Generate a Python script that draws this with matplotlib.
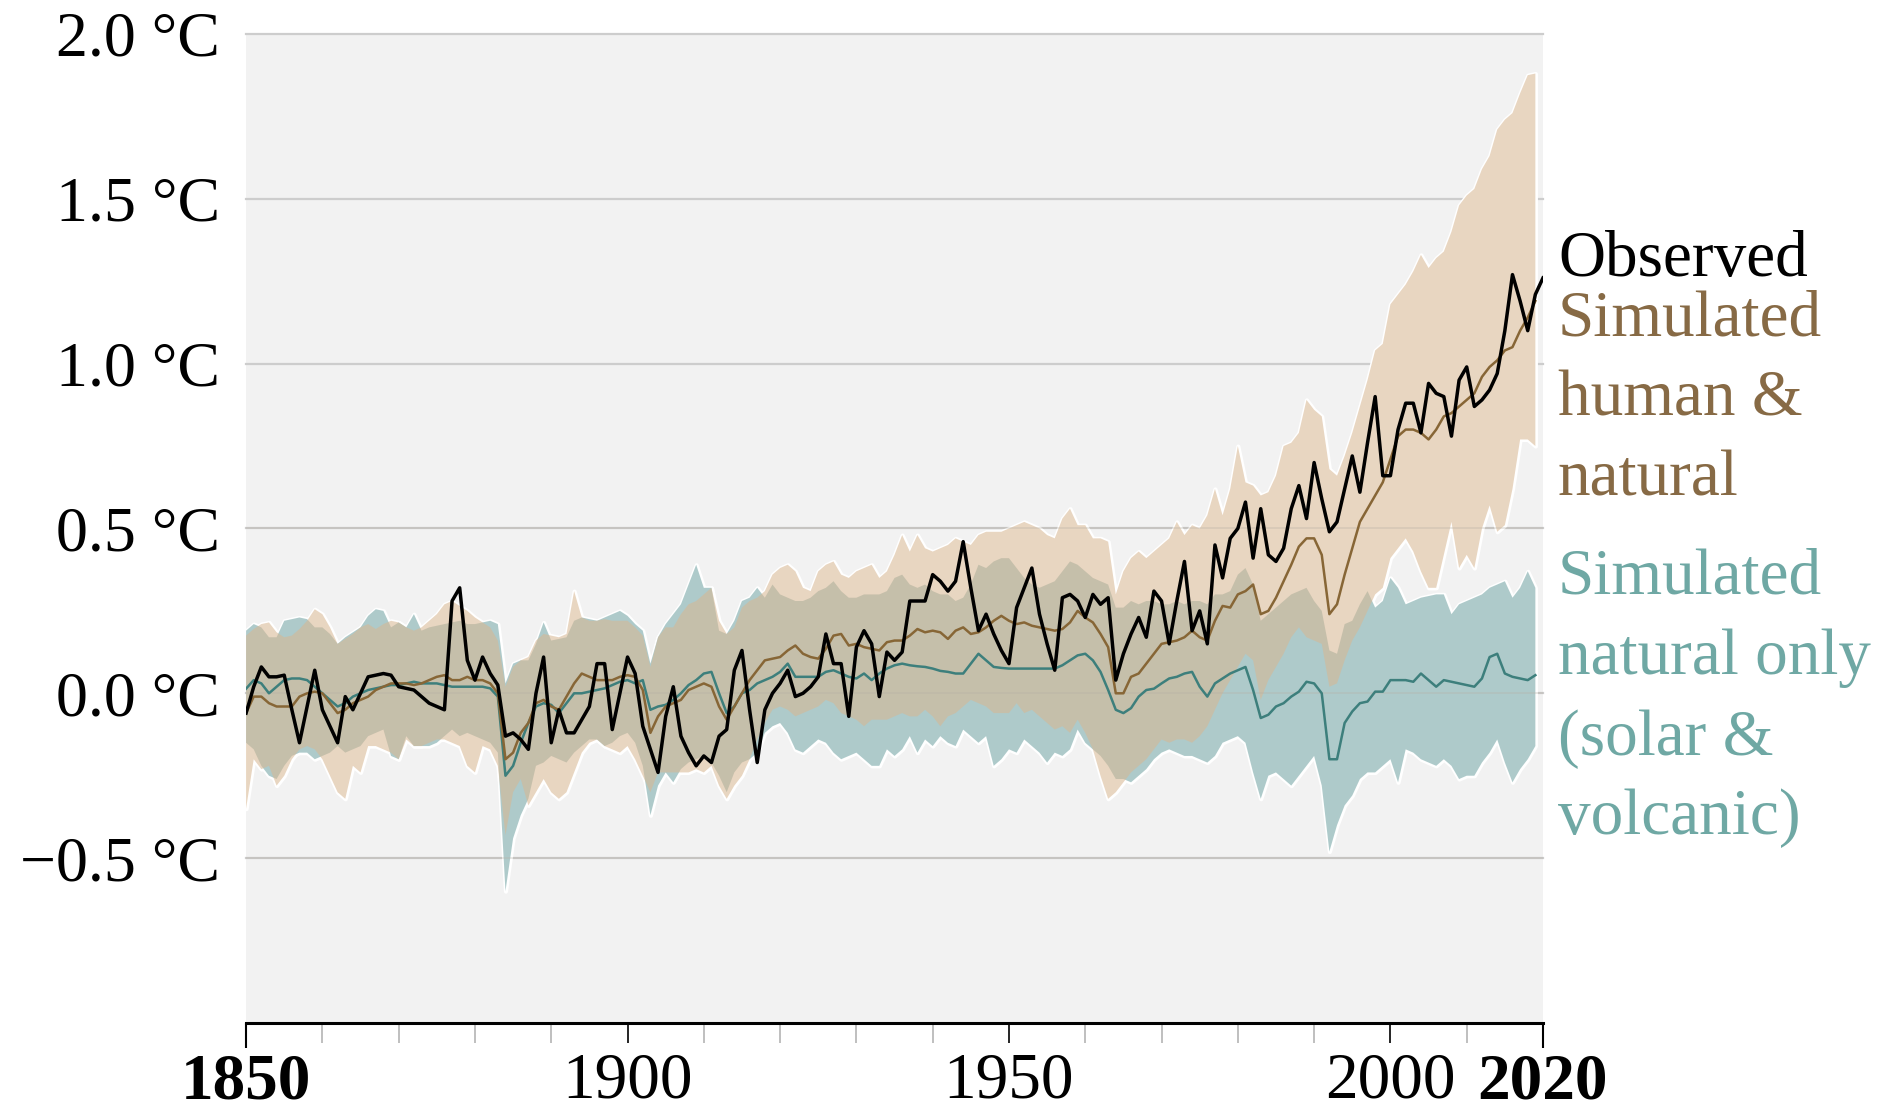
import numpy as np
import matplotlib
matplotlib.use("Agg")
import matplotlib.pyplot as plt

# years
years_obs = np.arange(1850, 2021)
years_sim = np.arange(1850, 2020)

# observed global surface temperature change (°C, relative to 1850-1900)
observed = [
    -0.06, 0.02, 0.08, 0.05, 0.05, 0.055, -0.05, -0.15, -0.04, 0.07,
    -0.05, -0.10, -0.15, -0.01, -0.05, 0.00, 0.05, 0.055, 0.06, 0.055,
    0.02, 0.015, 0.01, -0.01, -0.03, -0.04, -0.05, 0.28, 0.32, 0.10,
    0.04, 0.11, 0.06, 0.025, -0.13, -0.12, -0.14, -0.17, 0.00, 0.11,
    -0.15, -0.05, -0.12, -0.12, -0.08, -0.04, 0.09, 0.09, -0.11, 0.00,
    0.11, 0.06, -0.10, -0.17, -0.24, -0.07, 0.02, -0.13, -0.18, -0.22,
    -0.19, -0.21, -0.13, -0.11, 0.07, 0.13, -0.05, -0.21, -0.05, 0.00,
    0.03, 0.07, -0.01, 0.00, 0.02, 0.05, 0.18, 0.09, 0.09, -0.07,
    0.14, 0.19, 0.15, -0.01, 0.125, 0.10, 0.125, 0.28, 0.28, 0.28,
    0.36, 0.34, 0.31, 0.34, 0.46, 0.32, 0.19, 0.24, 0.18, 0.13,
    0.09, 0.26, 0.32, 0.38, 0.24, 0.15, 0.07, 0.29, 0.30, 0.28,
    0.23, 0.30, 0.27, 0.29, 0.04, 0.12, 0.18, 0.23, 0.17, 0.31,
    0.28, 0.15, 0.28, 0.40, 0.19, 0.25, 0.15, 0.45, 0.35, 0.47,
    0.50, 0.58, 0.41, 0.56, 0.42, 0.40, 0.44, 0.56, 0.63, 0.53,
    0.70, 0.59, 0.49, 0.52, 0.62, 0.72, 0.61, 0.76, 0.90, 0.66,
    0.66, 0.80, 0.88, 0.88, 0.79, 0.94, 0.91, 0.90, 0.78, 0.95,
    0.99, 0.87, 0.89, 0.92, 0.97, 1.10, 1.27, 1.19, 1.10, 1.21,
    1.26,
]

# simulated human & natural: mean, upper, lower
human_mean = [
    -0.06, -0.01, -0.01, -0.03, -0.04, -0.04, -0.04, -0.01, 0.00, 0.005,
    0.00, -0.03, -0.06, -0.05, -0.03, -0.02, -0.01, 0.01, 0.02, 0.03,
    0.03, 0.03, 0.025, 0.03, 0.04, 0.05, 0.055, 0.04, 0.04, 0.05,
    0.04, 0.04, 0.03, 0.00, -0.20, -0.18, -0.12, -0.09, -0.03, -0.02,
    -0.04, -0.05, -0.01, 0.03, 0.06, 0.05, 0.04, 0.04, 0.04, 0.05,
    0.055, 0.05, 0.01, -0.12, -0.07, -0.04, -0.03, -0.02, 0.01, 0.02,
    0.03, 0.02, -0.04, -0.08, -0.04, 0.00, 0.04, 0.07, 0.10, 0.105,
    0.11, 0.13, 0.145, 0.12, 0.11, 0.105, 0.135, 0.175, 0.18, 0.145,
    0.15, 0.14, 0.135, 0.13, 0.155, 0.16, 0.16, 0.175, 0.195, 0.185,
    0.19, 0.185, 0.165, 0.19, 0.20, 0.18, 0.185, 0.20, 0.22, 0.235,
    0.22, 0.21, 0.215, 0.205, 0.20, 0.195, 0.19, 0.195, 0.215, 0.25,
    0.23, 0.215, 0.18, 0.14, 0.00, 0.00, 0.05, 0.06, 0.09, 0.12,
    0.15, 0.155, 0.16, 0.17, 0.19, 0.17, 0.16, 0.22, 0.265, 0.26,
    0.30, 0.31, 0.33, 0.24, 0.25, 0.29, 0.34, 0.39, 0.445, 0.47,
    0.47, 0.42, 0.24, 0.27, 0.36, 0.44, 0.52, 0.56, 0.60, 0.64,
    0.71, 0.78, 0.80, 0.80, 0.79, 0.77, 0.80, 0.84, 0.85, 0.87,
    0.89, 0.91, 0.96, 0.99, 1.01, 1.04, 1.05, 1.10, 1.14, 1.19,
]
human_upper = [
    0.175, 0.195, 0.21, 0.215, 0.185, 0.17, 0.175, 0.195, 0.22, 0.255,
    0.24, 0.20, 0.15, 0.165, 0.18, 0.20, 0.21, 0.195, 0.21, 0.22,
    0.215, 0.20, 0.19, 0.20, 0.22, 0.24, 0.27, 0.28, 0.265, 0.25,
    0.23, 0.215, 0.20, 0.16, 0.02, 0.08, 0.10, 0.11, 0.16, 0.18,
    0.175, 0.17, 0.18, 0.31, 0.23, 0.22, 0.22, 0.225, 0.22, 0.22,
    0.22, 0.20, 0.175, 0.08, 0.17, 0.20, 0.20, 0.24, 0.27, 0.28,
    0.30, 0.32, 0.22, 0.18, 0.20, 0.26, 0.28, 0.29, 0.31, 0.36,
    0.38, 0.39, 0.37, 0.32, 0.31, 0.37, 0.39, 0.40, 0.36, 0.35,
    0.37, 0.38, 0.39, 0.35, 0.37, 0.42, 0.48, 0.43, 0.48, 0.44,
    0.43, 0.44, 0.45, 0.47, 0.46, 0.45, 0.48, 0.49, 0.49, 0.49,
    0.50, 0.51, 0.52, 0.51, 0.50, 0.48, 0.47, 0.53, 0.56, 0.51,
    0.51, 0.47, 0.47, 0.46, 0.30, 0.37, 0.41, 0.43, 0.41, 0.43,
    0.45, 0.47, 0.52, 0.48, 0.51, 0.50, 0.54, 0.62, 0.54, 0.62,
    0.75, 0.64, 0.63, 0.60, 0.61, 0.66, 0.75, 0.76, 0.79, 0.89,
    0.86, 0.84, 0.68, 0.66, 0.72, 0.79, 0.87, 0.95, 1.04, 1.06,
    1.18, 1.21, 1.24, 1.28, 1.33, 1.29, 1.32, 1.34, 1.40, 1.48,
    1.51, 1.53, 1.59, 1.63, 1.71, 1.74, 1.76, 1.82, 1.875, 1.88,
]
human_lower = [
    -0.35, -0.20, -0.23, -0.22, -0.28, -0.25, -0.20, -0.17, -0.16, -0.17,
    -0.20, -0.25, -0.30, -0.32, -0.22, -0.24, -0.16, -0.16, -0.17, -0.18,
    -0.20, -0.14, -0.16, -0.16, -0.15, -0.14, -0.14, -0.15, -0.16, -0.22,
    -0.24, -0.16, -0.17, -0.22, -0.43, -0.30, -0.26, -0.34, -0.30, -0.26,
    -0.30, -0.32, -0.30, -0.24, -0.18, -0.15, -0.14, -0.16, -0.17, -0.18,
    -0.16, -0.20, -0.25, -0.30, -0.24, -0.24, -0.24, -0.24, -0.24, -0.23,
    -0.24, -0.22, -0.28, -0.32, -0.28, -0.25, -0.20, -0.14, -0.09, -0.05,
    -0.04, -0.05, -0.07, -0.06, -0.05, -0.04, -0.02, -0.03, -0.06, -0.07,
    -0.08, -0.10, -0.08, -0.08, -0.08, -0.07, -0.06, -0.07, -0.07, -0.05,
    -0.07, -0.10, -0.07, -0.06, -0.04, -0.02, -0.03, -0.04, -0.06, -0.06,
    -0.06, -0.03, -0.06, -0.05, -0.07, -0.09, -0.11, -0.10, -0.12, -0.08,
    -0.12, -0.17, -0.25, -0.32, -0.30, -0.27, -0.24, -0.22, -0.20, -0.17,
    -0.14, -0.15, -0.14, -0.14, -0.15, -0.13, -0.10, -0.05, 0.00, 0.04,
    0.08, 0.12, 0.10, -0.02, 0.04, 0.08, 0.12, 0.17, 0.20, 0.17,
    0.16, 0.15, 0.02, 0.03, 0.10, 0.16, 0.20, 0.25, 0.30, 0.32,
    0.41, 0.44, 0.47, 0.43, 0.37, 0.32, 0.32, 0.42, 0.52, 0.38,
    0.42, 0.38, 0.50, 0.57, 0.49, 0.51, 0.62, 0.77, 0.77, 0.75,
]

# simulated natural only (solar & volcanic): mean, upper, lower
natural_mean = [
    0.014, 0.04, 0.03, 0.00, 0.02, 0.04, 0.045, 0.045, 0.04, 0.02,
    0.00, -0.02, -0.04, -0.03, -0.01, 0.00, 0.01, 0.015, 0.02, 0.025,
    0.025, 0.03, 0.035, 0.03, 0.03, 0.03, 0.025, 0.02, 0.02, 0.02,
    0.02, 0.02, 0.015, -0.01, -0.25, -0.22, -0.15, -0.09, -0.04, -0.03,
    -0.035, -0.06, -0.03, 0.00, 0.00, 0.005, 0.01, 0.015, 0.025, 0.035,
    0.04, 0.03, 0.04, -0.05, -0.04, -0.035, -0.02, 0.00, 0.025, 0.04,
    0.06, 0.065, 0.00, -0.06, -0.04, 0.00, 0.01, 0.03, 0.04, 0.05,
    0.065, 0.09, 0.05, 0.05, 0.05, 0.05, 0.065, 0.07, 0.06, 0.05,
    0.045, 0.06, 0.04, 0.06, 0.075, 0.085, 0.09, 0.085, 0.082, 0.08,
    0.075, 0.068, 0.065, 0.06, 0.06, 0.09, 0.12, 0.10, 0.08, 0.077,
    0.075, 0.075, 0.075, 0.075, 0.075, 0.075, 0.075, 0.085, 0.10, 0.115,
    0.12, 0.10, 0.065, 0.01, -0.05, -0.06, -0.045, -0.01, 0.01, 0.014,
    0.03, 0.045, 0.05, 0.06, 0.065, 0.02, -0.01, 0.03, 0.045, 0.06,
    0.07, 0.08, 0.01, -0.075, -0.065, -0.04, -0.03, -0.01, 0.005, 0.035,
    0.03, 0.00, -0.20, -0.20, -0.09, -0.055, -0.03, -0.025, 0.005, 0.005,
    0.04, 0.04, 0.04, 0.035, 0.06, 0.04, 0.02, 0.04, 0.035, 0.03,
    0.025, 0.02, 0.045, 0.11, 0.12, 0.06, 0.05, 0.045, 0.04, 0.055,
]
natural_upper = [
    0.19, 0.21, 0.20, 0.17, 0.17, 0.22, 0.225, 0.23, 0.225, 0.20,
    0.20, 0.18, 0.15, 0.17, 0.185, 0.20, 0.235, 0.255, 0.25, 0.20,
    0.215, 0.20, 0.24, 0.19, 0.20, 0.205, 0.21, 0.215, 0.22, 0.21,
    0.21, 0.215, 0.22, 0.21, 0.03, 0.09, 0.10, 0.10, 0.15, 0.215,
    0.16, 0.165, 0.17, 0.22, 0.23, 0.225, 0.22, 0.23, 0.24, 0.25,
    0.235, 0.21, 0.19, 0.09, 0.17, 0.21, 0.24, 0.27, 0.33, 0.39,
    0.32, 0.32, 0.19, 0.18, 0.22, 0.28, 0.29, 0.32, 0.29, 0.33,
    0.30, 0.29, 0.28, 0.28, 0.29, 0.31, 0.32, 0.34, 0.31, 0.29,
    0.29, 0.30, 0.30, 0.30, 0.31, 0.35, 0.36, 0.33, 0.32, 0.33,
    0.31, 0.30, 0.30, 0.28, 0.29, 0.33, 0.39, 0.38, 0.40, 0.41,
    0.41, 0.38, 0.35, 0.33, 0.32, 0.33, 0.34, 0.37, 0.40, 0.39,
    0.37, 0.35, 0.34, 0.33, 0.26, 0.26, 0.28, 0.27, 0.28, 0.28,
    0.27, 0.27, 0.28, 0.27, 0.28, 0.28, 0.27, 0.30, 0.30, 0.31,
    0.36, 0.38, 0.33, 0.22, 0.24, 0.26, 0.28, 0.30, 0.31, 0.32,
    0.28, 0.25, 0.13, 0.12, 0.21, 0.22, 0.27, 0.31, 0.26, 0.28,
    0.35, 0.32, 0.27, 0.28, 0.29, 0.295, 0.30, 0.30, 0.24, 0.27,
    0.28, 0.29, 0.30, 0.32, 0.33, 0.34, 0.29, 0.32, 0.37, 0.32,
]
natural_lower = [
    -0.15, -0.17, -0.22, -0.25, -0.26, -0.22, -0.19, -0.18, -0.18, -0.20,
    -0.19, -0.18, -0.16, -0.18, -0.17, -0.16, -0.13, -0.12, -0.11, -0.19,
    -0.20, -0.13, -0.16, -0.16, -0.16, -0.15, -0.13, -0.11, -0.13, -0.12,
    -0.13, -0.14, -0.15, -0.18, -0.60, -0.44, -0.37, -0.32, -0.22, -0.21,
    -0.19, -0.20, -0.21, -0.18, -0.16, -0.14, -0.14, -0.16, -0.15, -0.13,
    -0.12, -0.15, -0.22, -0.37, -0.28, -0.24, -0.27, -0.23, -0.21, -0.20,
    -0.19, -0.21, -0.25, -0.30, -0.24, -0.21, -0.20, -0.18, -0.12, -0.10,
    -0.09, -0.12, -0.17, -0.18, -0.16, -0.14, -0.15, -0.18, -0.20, -0.19,
    -0.18, -0.20, -0.22, -0.22, -0.17, -0.19, -0.17, -0.13, -0.18, -0.14,
    -0.16, -0.13, -0.15, -0.16, -0.11, -0.13, -0.15, -0.13, -0.22, -0.20,
    -0.17, -0.18, -0.14, -0.16, -0.18, -0.21, -0.18, -0.19, -0.17, -0.11,
    -0.15, -0.17, -0.19, -0.22, -0.26, -0.26, -0.27, -0.25, -0.23, -0.20,
    -0.18, -0.17, -0.18, -0.19, -0.19, -0.20, -0.21, -0.19, -0.15, -0.14,
    -0.13, -0.15, -0.24, -0.32, -0.25, -0.24, -0.26, -0.28, -0.25, -0.22,
    -0.19, -0.28, -0.48, -0.40, -0.34, -0.31, -0.26, -0.24, -0.24, -0.22,
    -0.20, -0.27, -0.17, -0.18, -0.20, -0.21, -0.22, -0.20, -0.22, -0.26,
    -0.25, -0.25, -0.21, -0.18, -0.14, -0.21, -0.27, -0.23, -0.20, -0.16,
]

ytick_vals = [-0.5, 0.0, 0.5, 1.0, 1.5, 2.0]
ytick_text = ["\u22120.5 °C", "0.0 °C", "0.5 °C", "1.0 °C", "1.5 °C", "2.0 °C"]
xtick_vals = [1850, 1900, 1950, 2000, 2020]
xtick_text = ["1850", "1900", "1950", "2000", "2020"]

serif = "Liberation Serif"
plt.rcParams["font.family"] = [serif, "DejaVu Serif"]

fig = plt.figure(figsize=(18.9, 11.1), dpi=100)
ax = fig.add_axes([0.1302, 0.0784, 0.6862, 0.8910])
ax.set_facecolor("#f2f2f2")

# grid lines
for v in ytick_vals:
    ax.axhline(v, color="#cdcdcd", lw=1.6, zorder=0.5, clip_on=False)

# white halo under the bands
for lo, hi in [(natural_lower, natural_upper), (human_lower, human_upper)]:
    ax.fill_between(years_sim, lo, hi, facecolor="white", edgecolor="white",
                    lw=3.0, zorder=1)

ax.fill_between(years_sim, natural_lower, natural_upper, facecolor="#5f9797",
                alpha=0.5, lw=0, zorder=2)
ax.fill_between(years_sim, human_lower, human_upper, facecolor="#d8b792",
                alpha=0.57, lw=0, zorder=3)

# faint grid through the bands
for v in ytick_vals[:3]:
    ax.axhline(v, color="#b5b0a5", lw=1.2, alpha=0.35, zorder=3.5)

ax.plot(years_sim, natural_mean, color="#3d7f7c", lw=1.8, zorder=4)
ax.plot(years_sim, human_mean, color="#876636", lw=1.8, zorder=5)
ax.plot(years_obs, observed, color="black", lw=2.5, zorder=6)

ax.set_xlim(1850, 2020)
ax.set_ylim(-1.0, 2.0)

for s in ["top", "left", "right"]:
    ax.spines[s].set_visible(False)
ax.spines["bottom"].set_linewidth(2.2)
ax.spines["bottom"].set_color("black")
ax.spines["bottom"].set_zorder(7)

ax.set_yticks(ytick_vals)
ax.set_yticklabels(ytick_text, fontsize=46)
ax.tick_params(axis="y", length=0, pad=19)

ax.set_xticks(xtick_vals)
ax.set_xticklabels(xtick_text, fontsize=47)
ax.set_xticks(np.arange(1860, 2020, 10), minor=True)
ax.tick_params(axis="x", which="major", direction="out", length=18,
               width=1.5, color="black", pad=3)
ax.tick_params(axis="x", which="minor", direction="out", length=14.4,
               width=1.2, color="#b4b4b4")
for tick, lab in zip(ax.xaxis.get_major_ticks(), xtick_text):
    if lab in ("1850", "2020"):
        tick.label1.set_fontweight("bold")
    else:
        tick.tick1line.set_color("#b4b4b4")
        tick.tick1line.set_markersize(14.4)
        tick.tick1line.set_markeredgewidth(1.2)

# series labels at the right
label_x = 1558 / 1890
labels = [
    ("Observed", "black", 276),
    ("Simulated", "#876a45", 336),
    ("human &", "#876a45", 415),
    ("natural", "#876a45", 495),
    ("Simulated", "#6fa8a4", 594),
    ("natural only", "#6fa8a4", 674),
    ("(solar &", "#6fa8a4", 755),
    ("volcanic)", "#6fa8a4", 834),
]
for txt, col, base in labels:
    fig.text(label_x, 1 - base / 1110, txt, color=col, fontsize=47,
             va="baseline", ha="left")

fig.savefig("out.png", dpi=100)
